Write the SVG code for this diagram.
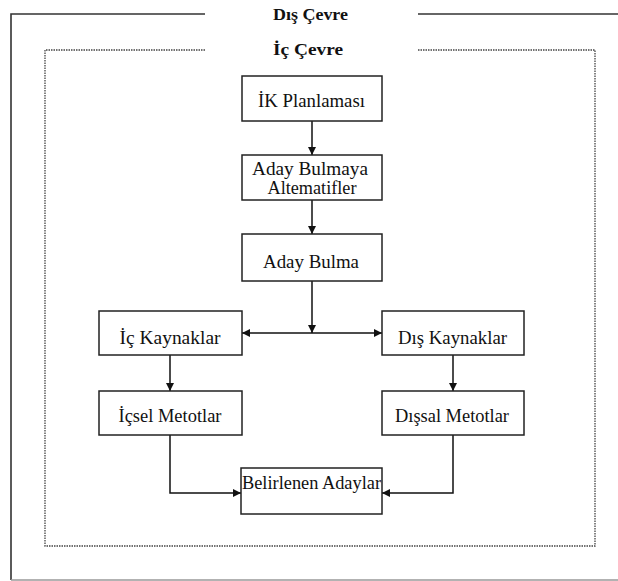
<svg xmlns="http://www.w3.org/2000/svg" width="618" height="581" viewBox="0 0 618 581">
<style>
.box{fill:#fff;stroke:#222;stroke-width:1.5}
.lbl{font-family:"Liberation Serif","Times New Roman",serif;font-size:18px;fill:#111;text-anchor:middle}
.ttl{font-family:"Liberation Serif","Times New Roman",serif;font-size:17px;font-weight:bold;fill:#111;text-anchor:middle}
.frame{fill:none;stroke:#333;stroke-width:1.6}
.dot{fill:none;stroke:#444;stroke-width:1.3;stroke-dasharray:1.5 1}
.con{fill:none;stroke:#111;stroke-width:1.5}
</style>
<defs>
<marker id="ah" viewBox="0 0 10 10" refX="10" refY="5" markerWidth="8" markerHeight="8" markerUnits="userSpaceOnUse" orient="auto">
<path d="M0,0 L10,5 L0,10 Z" fill="#111"/>
</marker>
</defs>
<rect width="618" height="581" fill="#fff"/>
<g id="dis-cevre">
<path class="frame" d="M205,14 H11 V580"/>
<path class="frame" d="M418,14 H618"/>
<path d="M11,580 H618" fill="none" stroke="#999" stroke-width="1.6"/>
<text class="ttl" x="310.5" y="20" textLength="75" lengthAdjust="spacingAndGlyphs">Dış Çevre</text>
</g>
<g id="ic-cevre">
<path class="dot" d="M205,50 H45 V546 H595 V50 H418"/>
<text class="ttl" x="308" y="55" textLength="70" lengthAdjust="spacingAndGlyphs">İç Çevre</text>
</g>
<g id="connectors">
<path class="con" d="M312,121 V155" marker-end="url(#ah)"/>
<path class="con" d="M312,200 V234" marker-end="url(#ah)"/>
<path class="con" d="M312,281 V333" marker-end="url(#ah)"/>
<path class="con" d="M312,333 H242" marker-end="url(#ah)"/>
<path class="con" d="M312,333 H382" marker-end="url(#ah)"/>
<path class="con" d="M170,355 V391" marker-end="url(#ah)"/>
<path class="con" d="M453,355 V391" marker-end="url(#ah)"/>
<path class="con" d="M170,435 V493 H241" marker-end="url(#ah)"/>
<path class="con" d="M453,435 V493 H382" marker-end="url(#ah)"/>
</g>
<g id="ik-planlamasi">
<rect class="box" x="242" y="76" width="140" height="45"/>
<text class="lbl" x="311.5" y="107" textLength="107" lengthAdjust="spacingAndGlyphs">İK Planlaması</text>
</g>
<g id="aday-bulmaya-alternatifler">
<rect class="box" x="242" y="155" width="140" height="45"/>
<text class="lbl" x="310" y="175" textLength="116" lengthAdjust="spacingAndGlyphs">Aday Bulmaya</text>
<text class="lbl" x="312" y="194" textLength="89" lengthAdjust="spacingAndGlyphs">Altematifler</text>
</g>
<g id="aday-bulma">
<rect class="box" x="242" y="234" width="140" height="47"/>
<text class="lbl" x="311" y="268" textLength="96" lengthAdjust="spacingAndGlyphs">Aday Bulma</text>
</g>
<g id="ic-kaynaklar">
<rect class="box" x="99" y="311" width="143" height="44"/>
<text class="lbl" x="170" y="344" textLength="101" lengthAdjust="spacingAndGlyphs">İç Kaynaklar</text>
</g>
<g id="dis-kaynaklar">
<rect class="box" x="382" y="311" width="142" height="44"/>
<text class="lbl" x="452.5" y="344" textLength="109" lengthAdjust="spacingAndGlyphs">Dış Kaynaklar</text>
</g>
<g id="icsel-metotlar">
<rect class="box" x="99" y="391" width="143" height="44"/>
<text class="lbl" x="170" y="422" textLength="103" lengthAdjust="spacingAndGlyphs">İçsel Metotlar</text>
</g>
<g id="dissal-metotlar">
<rect class="box" x="382" y="391" width="142" height="44"/>
<text class="lbl" x="452" y="422" textLength="114" lengthAdjust="spacingAndGlyphs">Dışsal Metotlar</text>
</g>
<g id="belirlenen-adaylar">
<rect class="box" x="241" y="468" width="141" height="46"/>
<text class="lbl" x="311.5" y="489" textLength="139" lengthAdjust="spacingAndGlyphs">Belirlenen Adaylar</text>
</g>
</svg>
